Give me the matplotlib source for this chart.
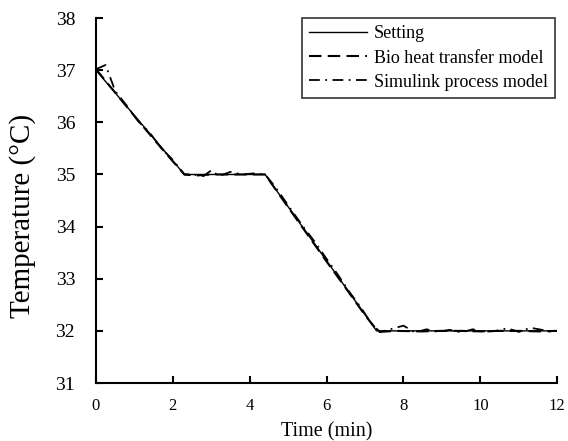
import matplotlib
matplotlib.use('Agg')
import matplotlib.pyplot as plt

plt.rcParams['font.family'] = ['Liberation Serif', 'DejaVu Serif']

# setting profile
set_t = [0, 2.3, 4.4, 7.3, 12]
set_T = [37, 35, 35, 32, 32]

# bio heat transfer model
bio_t = [0, 0.3, 1.0, 1.5, 2.0, 2.3, 2.6, 3.0, 3.5, 4.0, 4.4, 4.6, 5.0, 5.5, 6.0, 6.5, 7.0, 7.35,
         7.8, 8.5, 9.0, 9.5, 10.0, 10.5, 11.0, 11.5, 12.0]
bio_T = [37.02, 36.75, 36.12, 35.68, 35.25, 35.0, 34.98, 35.0, 35.0, 35.0, 35.0, 34.79, 34.37, 33.85, 33.33, 32.82, 32.3, 31.98,
         32.0, 31.99, 32.0, 32.0, 31.99, 32.0, 32.0, 31.99, 32.0]

# simulink process model
sim_t = [0, 0.25, 0.5, 0.8, 1.1, 1.4, 1.7, 2.0, 2.3, 2.5, 2.8, 3.0, 3.2, 3.5, 3.8, 4.1, 4.4, 4.6, 4.8, 5.1, 5.4,
         5.7, 6.0, 6.3, 6.6, 6.9, 7.2, 7.4, 7.7, 8.0, 8.3, 8.6, 8.9, 9.2, 9.5, 9.8, 10.1, 10.4, 10.7, 11.0,
         11.3, 11.6, 11.9]
sim_T = [37.02, 37.1, 36.6, 36.32, 36.02, 35.8, 35.5, 35.28, 35.0, 35.0, 34.97, 35.08, 34.97, 35.05, 35.0, 35.02, 35.0,
         34.82, 34.62, 34.3, 33.99, 33.7, 33.38, 33.07, 32.74, 32.44, 32.1, 31.98, 32.04, 32.1, 31.97, 32.03, 31.98, 32.02,
         31.97, 32.03, 31.98, 32.0, 32.05, 31.98, 32.06, 32.02, 31.97]

fig = plt.figure(figsize=(5.68, 4.41), dpi=100)
ax = fig.add_axes([0.169, 0.1315, 0.812, 0.8275])

ax.plot(set_t, set_T, color='black', lw=1.0, ls='-', label='Setting')
ax.plot(bio_t, bio_T, color='black', lw=1.5, ls=(0, (6, 3)), label='Bio heat transfer model')
ax.plot(sim_t, sim_T, color='black', lw=1.3, ls=(0, (6, 3, 1, 3)), label='Simulink process model')

ax.set_xlim(0, 12)
ax.set_ylim(31, 38)
ax.set_xticks(range(0, 13, 2))
ax.set_yticks(range(31, 39))
ax.tick_params(direction='in', length=5, width=1.5)
ax.tick_params(axis='x', labelsize=12, pad=11)
ax.tick_params(axis='y', labelsize=14, pad=15)
for s in ['top', 'right']:
    ax.spines[s].set_visible(False)
for s in ['left', 'bottom']:
    ax.spines[s].set_linewidth(1.5)

ax.set_xlabel('Time (min)', fontsize=14.5, labelpad=6)
ax.set_ylabel('Temperature (\u00b0C)', fontsize=21)
ax.yaxis.set_label_coords(-0.131, 0.457)

leg = ax.legend(loc='upper right', bbox_to_anchor=(0.996, 1.0), fontsize=13, frameon=True, fancybox=False,
                edgecolor='black', handlelength=3.2, borderpad=0.4, labelspacing=0.4, handletextpad=0.4,
                borderaxespad=0.0)
leg.get_frame().set_linewidth(1.2)

plt.savefig('out.png', dpi=100)
